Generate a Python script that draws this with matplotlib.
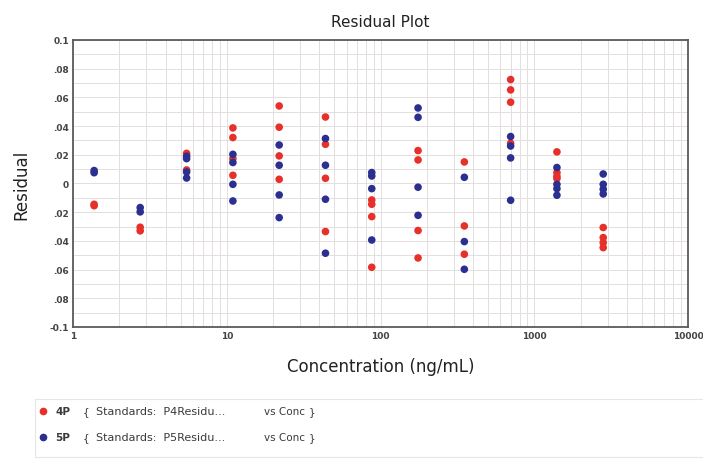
"""Residual plot (4P vs 5P fit) over a log concentration axis."""

import matplotlib

matplotlib.use("Agg")
import matplotlib.pyplot as plt
from matplotlib.lines import Line2D
from matplotlib.patches import Rectangle
from matplotlib.ticker import FixedLocator, MultipleLocator, NullFormatter

# standard concentrations (ng/mL), 2-fold serial dilution
conc = [1.37, 2.73, 5.47, 10.94, 21.88, 43.75, 87.5, 175, 350, 700, 1400, 2800]

# residuals per standard, 4P fit (red)
res_4p = [
    [-0.0145, -0.0155],
    [-0.0305, -0.0330],
    [0.0210, 0.0094],
    [0.0387, 0.0320, 0.0173, 0.0057],
    [0.0540, 0.0392, 0.0192, 0.0029],
    [0.0463, 0.0273, 0.0036, -0.0335],
    [-0.0115, -0.0145, -0.0231, -0.0584],
    [0.0229, 0.0164, -0.0328, -0.0519],
    [0.0150, -0.0296, -0.0493],
    [0.0724, 0.0652, 0.0566, 0.0280],
    [0.0220, 0.0076, 0.0050, 0.0034],
    [-0.0307, -0.0377, -0.0412, -0.0447],
]

# residuals per standard, 5P fit (blue)
res_5p = [
    [0.0090, 0.0075],
    [-0.0168, -0.0198],
    [0.0190, 0.0173, 0.0080, 0.0038],
    [0.0203, 0.0146, -0.0006, -0.0122],
    [0.0268, 0.0127, -0.0080, -0.0238],
    [0.0313, 0.0127, -0.0110, -0.0486],
    [0.0076, 0.0052, -0.0036, -0.0394],
    [0.0526, 0.0461, -0.0026, -0.0222],
    [0.0043, -0.0405, -0.0598],
    [0.0327, 0.0261, 0.0178, -0.0117],
    [0.0111, -0.0006, -0.0036, -0.0082],
    [0.0066, -0.0006, -0.0040, -0.0073],
]

y_ticks = [0.1, 0.08, 0.06, 0.04, 0.02, 0, -0.02, -0.04, -0.06, -0.08, -0.1]
y_tick_labels = ["0.1", ".08", ".06", ".04", ".02", "0", ".02", ".04", ".06", ".08", "-0.1"]
x_ticks = [1, 10, 100, 1000, 10000]
x_tick_labels = ["1", "10", "100", "1000", "10000"]

legend_names = ["4P", "5P"]
legend_series = ["Standards:  P4Residu...", "Standards:  P5Residu..."]
legend_vs = "vs Conc"

RED = "#e8302a"
BLUE = "#2b2f8f"
TXT = "#3a3a3a"


def flatten(groups):
    xs, ys = [], []
    for c, vals in zip(conc, groups):
        xs.extend([c] * len(vals))
        ys.extend(vals)
    return xs, ys


fig = plt.figure(figsize=(7.03, 4.6), dpi=100)
ax = fig.add_axes([0.104, 0.287, 0.875, 0.624])

x4, y4 = flatten(res_4p)
x5, y5 = flatten(res_5p)
ax.scatter(x4, y4, s=30, color=RED, edgecolors="none", zorder=3)
ax.scatter(x5, y5, s=30, color=BLUE, edgecolors="none", zorder=4)

ax.set_xscale("log")
ax.set_xlim(1, 10000)
ax.set_ylim(-0.1, 0.1)

ax.xaxis.set_major_locator(FixedLocator(x_ticks))
ax.set_xticklabels(x_tick_labels)
ax.xaxis.set_minor_locator(
    FixedLocator([m * 10**d for d in range(4) for m in range(2, 10)])
)
ax.xaxis.set_minor_formatter(NullFormatter())
ax.set_yticks(y_ticks)
ax.set_yticklabels(y_tick_labels)
ax.yaxis.set_minor_locator(MultipleLocator(0.01))

ax.grid(which="both", color="#e4dede", linewidth=0.7, zorder=0)
ax.set_axisbelow(True)
ax.tick_params(which="both", length=0, labelsize=6.5, labelcolor="#444444", pad=3)
for lbl in ax.get_xticklabels() + ax.get_yticklabels():
    lbl.set_fontweight("bold")

for sp in ax.spines.values():
    sp.set_color("#5a5a5a")
    sp.set_linewidth(1.3)

ax.set_title("Residual Plot", fontsize=11, color="#222222", pad=10)
ax.set_xlabel("Concentration (ng/mL)", fontsize=12, color="#222222", labelpad=12)
ax.set_ylabel("Residual", fontsize=12, color="#222222", labelpad=14)

# legend panel below the plot
fig.patches.append(
    Rectangle((35 / 703, 2 / 460), 1.0, 58 / 460, transform=fig.transFigure,
              facecolor="white", edgecolor="#e6e6e6", linewidth=0.8)
)
for i, (name, series, col) in enumerate(zip(legend_names, legend_series, [RED, BLUE])):
    yy = (460 - 412 - 26 * i) / 460
    fig.add_artist(Line2D([43 / 703], [yy], marker="o", markersize=4.5,
                          color=col, linestyle="none", transform=fig.transFigure))
    fig.text(55 / 703, yy, name, fontsize=7.5, fontweight="bold", color=TXT, va="center")
    fig.text(83 / 703, yy, "{", fontsize=7.5, color=TXT, va="center")
    fig.text(96 / 703, yy, series, fontsize=8, color=TXT, va="center")
    fig.text(264 / 703, yy, legend_vs, fontsize=7.5, color=TXT, va="center")
    fig.text(309 / 703, yy, "}", fontsize=7.5, color=TXT, va="center")

fig.savefig("out.png", dpi=100)
